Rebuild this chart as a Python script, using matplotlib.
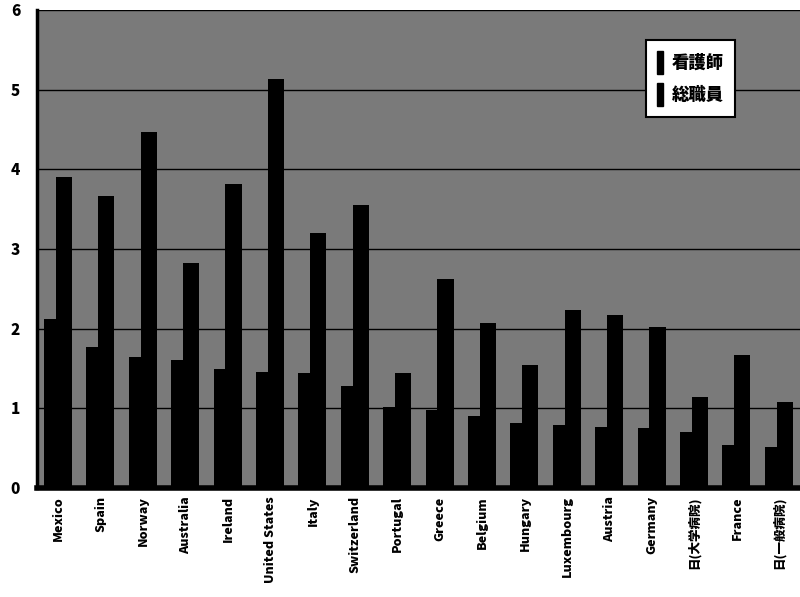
import numpy as np
import matplotlib.pyplot as plt
from matplotlib.patches import Patch

plt.rcParams['font.family'] = ['Noto Sans CJK JP', 'DejaVu Sans']

# datos
countries = ["Mexico", "Spain", "Norway", "Australia", "Ireland", "United States",
             "Italy", "Switzerland", "Portugal", "Greece", "Belgium", "Hungary",
             "Luxembourg", "Austria", "Germany", "日(大学病院)", "France", "日(一般病院)"]
nurses = [2.12, 1.77, 1.64, 1.61, 1.50, 1.46, 1.44, 1.28, 1.02, 0.98,
          0.90, 0.81, 0.79, 0.77, 0.75, 0.70, 0.54, 0.52]
staff = [3.91, 3.67, 4.47, 2.82, 3.82, 5.14, 3.20, 3.55, 1.44, 2.63,
         2.07, 1.54, 2.23, 2.17, 2.02, 1.14, 1.67, 1.08]
series_names = ["看護師", "総職員"]

fig = plt.figure(figsize=(8, 5.97), dpi=100)
ax = fig.add_axes([0.046, 0.1826, 0.954, 0.8004])
ax.set_facecolor('#7a7a7a')

x = np.arange(len(countries))
w = 0.38
ax.bar(x - 0.14, nurses, w, color='black', zorder=3)
ax.bar(x + 0.14, staff, w, color='black', zorder=3)

ax.set_xlim(-0.5, len(countries) - 0.5)
ax.set_ylim(0, 6)
ax.set_yticks(range(0, 7))
ax.yaxis.grid(True, color='black', linewidth=1.0, zorder=1)
ax.set_axisbelow(True)

ax.set_xticks(x)
ax.set_xticklabels(countries, rotation=90, fontsize=9, fontweight='heavy')
for lab in ax.get_yticklabels():
    lab.set_fontweight('heavy')
    lab.set_fontsize(11)
ax.tick_params(axis='x', length=0, pad=6)
ax.tick_params(axis='y', length=0, pad=12)

for s in ['top', 'right']:
    ax.spines[s].set_visible(False)
ax.spines['left'].set_linewidth(2.5)
ax.spines['bottom'].set_linewidth(4)

handles = [Patch(color='black') for _ in series_names]
leg = ax.legend(handles, series_names, loc='upper left',
                bbox_to_anchor=(0.787, 0.955), handlelength=0.4, handleheight=1.7,
                handletextpad=0.5, prop={'weight': 'heavy', 'size': 12.5},
                fancybox=False, framealpha=1, edgecolor='black', borderpad=0.6,
                labelspacing=0.5)
leg.get_frame().set_linewidth(1.5)

plt.savefig('out.png', dpi=100)
